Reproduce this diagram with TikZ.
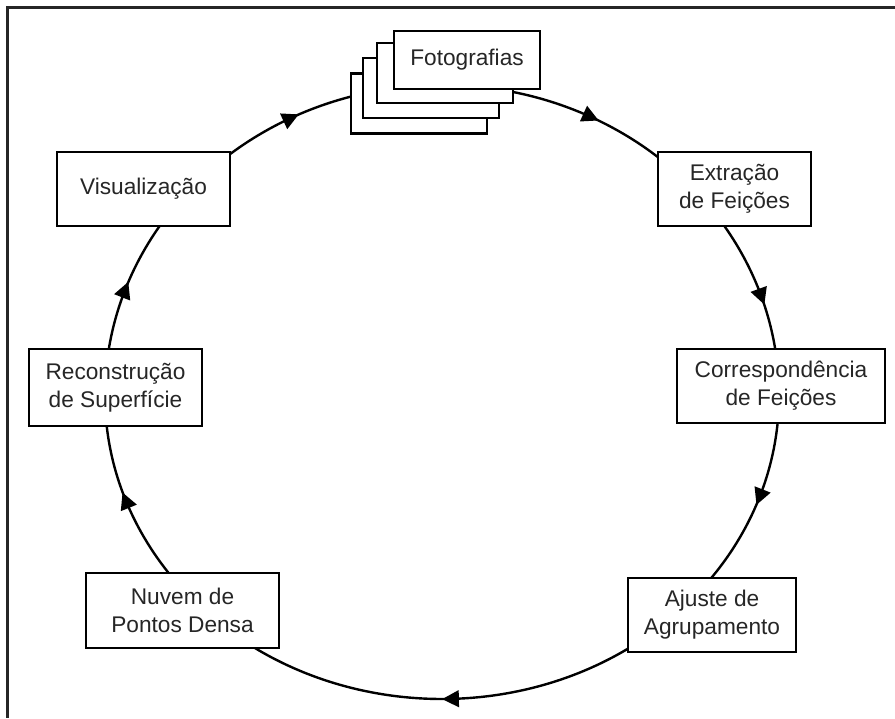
\documentclass[tikz,border=0pt]{standalone}
\usepackage{fontspec}
\setmainfont{Liberation Sans}
\usetikzlibrary{arrows.meta,decorations.markings}
\begin{document}
\begin{tikzpicture}[x=0.75pt,y=-0.75pt,
  box/.style={draw=black, line width=2pt, fill=white, align=center, inner sep=0pt,
    font=\fontsize{17}{21}\selectfont, text=black!85},
  flowarc/.style={line width=1.8pt, postaction=decorate,
    decoration={markings, mark=at position #1 with {\pgftransformxshift{6pt}\arrow{Triangle[length=12.5pt,width=12.5pt]}}}},
]
\def\ecx{442}
\def\ecy{395.5}
\def\erx{337}
\def\eru{310.5}
\def\erl{303.5}
\useasboundingbox (0,0) rectangle (895,718);
\draw[line width=1.6pt, black!85] (895,7.5) -- (7.5,7.5) -- (7.5,718);

% points where the cycle passes under each box
\coordinate (pF)  at ({\ecx+\erx*cos(270)},{\ecy+\eru*sin(270)});
\coordinate (pE)  at ({\ecx+\erx*cos(319)},{\ecy+\eru*sin(319)});
\coordinate (pC)  at ({\ecx+\erx},{\ecy});
\coordinate (pA)  at ({\ecx+\erx*cos(46.5)},{\ecy+\erl*sin(46.5)});
\coordinate (pN)  at ({\ecx+\erx*cos(134)},{\ecy+\erl*sin(134)});
\coordinate (pR)  at ({\ecx-\erx},{\ecy});
\coordinate (pV)  at ({\ecx+\erx*cos(221.6)},{\ecy+\eru*sin(221.6)});

\draw[flowarc=0.543] (pF) arc[start angle=270, end angle=319, x radius=\erx, y radius=\eru];
\draw[flowarc=0.554] (pE) arc[start angle=319, end angle=360, x radius=\erx, y radius=\eru];
\draw[flowarc=0.415] (pC) arc[start angle=0, end angle=46.5, x radius=\erx, y radius=\erl];
\draw[flowarc=0.481] (pA) arc[start angle=46.5, end angle=134, x radius=\erx, y radius=\erl];
\draw[flowarc=0.570] (pN) arc[start angle=134, end angle=180, x radius=\erx, y radius=\erl];
\draw[flowarc=0.476] (pR) arc[start angle=180, end angle=221.6, x radius=\erx, y radius=\eru];
\draw[flowarc=0.446] (pV) arc[start angle=221.6, end angle=270, x radius=\erx, y radius=\eru];

% photo stack
\node[box, minimum width=136*0.75pt, minimum height=60*0.75pt] (f4) at (419,103.5) {};
\node[box, minimum width=136*0.75pt, minimum height=60*0.75pt] (f3) at (431,88) {};
\node[box, minimum width=136*0.75pt, minimum height=60*0.75pt] (f2) at (445,73) {};
\node[box, minimum width=146*0.75pt, minimum height=58*0.75pt] (foto) at (467,60) {Fotografias};

\node[box, minimum width=153*0.75pt, minimum height=74*0.75pt] (ext) at (734.5,189) {Extração\\de Feições};
\node[box, minimum width=208*0.75pt, minimum height=74*0.75pt] (cor) at (781,386) {Correspondência\\de Feições};
\node[box, minimum width=168*0.75pt, minimum height=74*0.75pt] (aju) at (712,615) {Ajuste de\\Agrupamento};
\node[box, minimum width=193*0.75pt, minimum height=75*0.75pt] (nuv) at (182.5,610.5) {Nuvem de\\Pontos Densa};
\node[box, minimum width=173*0.75pt, minimum height=77*0.75pt] (rec) at (115.5,387.5) {Reconstrução\\de Superfície};
\node[box, minimum width=173*0.75pt, minimum height=74*0.75pt] (vis) at (143.5,189) {Visualização};
\end{tikzpicture}
\end{document}
